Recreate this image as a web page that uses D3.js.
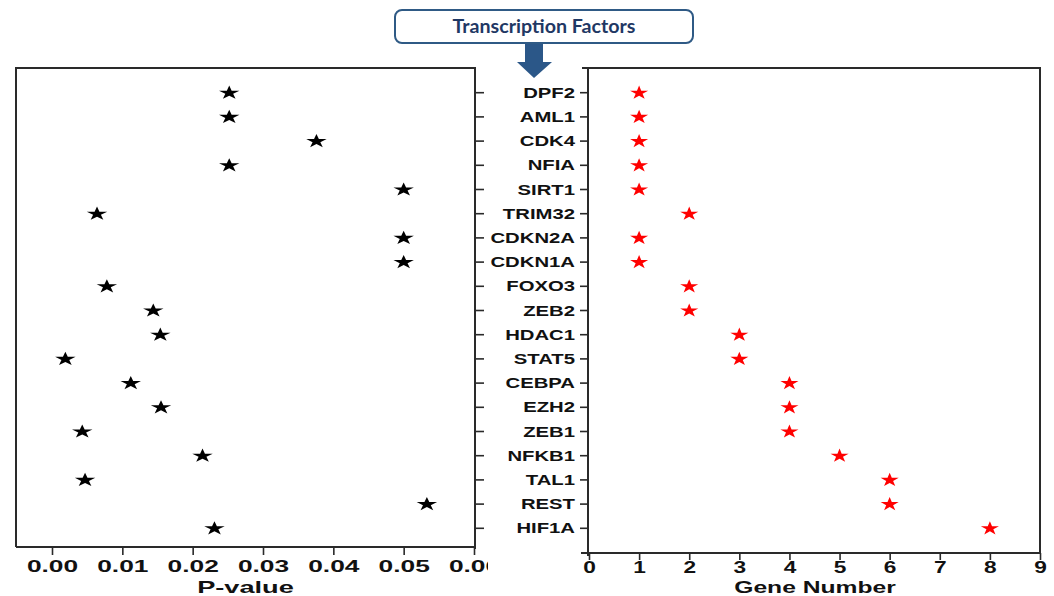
<!DOCTYPE html>
<html>
<head>
<meta charset="utf-8">
<script src="https://cdn.jsdelivr.net/npm/d3@7"></script>
<style>
  body { margin: 0; background: #fff; }
  svg { display: block; }
  .tick text { font-family: "Liberation Sans", Arial, sans-serif; font-weight: bold; fill: #111; }
  .tick line { stroke: #2a2a2a; stroke-width: 1.6; }
</style>
</head>
<body>
<div id="chart"></div>
<script>
const width = 1054, height = 596;

// transcription factors, top to bottom
const genes = ["DPF2", "AML1", "CDK4", "NFIA", "SIRT1", "TRIM32", "CDKN2A", "CDKN1A", "FOXO3",
    "ZEB2", "HDAC1", "STAT5", "CEBPA", "EZH2", "ZEB1", "NFKB1", "TAL1", "REST", "HIF1A"];

// left panel: P-value per factor
const pValues = [0.0252, 0.0252, 0.0376, 0.0252, 0.0500, 0.0064, 0.0500, 0.0500, 0.0078,
    0.0144, 0.0154, 0.0019, 0.0112, 0.0155, 0.0043, 0.0214, 0.0047, 0.0533, 0.0231];

// right panel: gene number per factor
const geneNumbers = [1, 1, 1, 1, 1, 2, 1, 1, 2, 2, 3, 3, 4, 4, 4, 5, 6, 6, 8];

const pTicks = [0, 0.01, 0.02, 0.03, 0.04, 0.05, 0.06];
const geneTicks = [0, 1, 2, 3, 4, 5, 6, 7, 8, 9];

const title = "Transcription Factors";

// the source figure is stretched sideways (the left panel a bit more),
// so text and stars get a wider x scale
const stretchL = 1.55, stretchR = 1.42, stretchLabels = 1.45;
const lineColor = "#2a2a2a";

const svg = d3.select("#chart").append("svg")
    .attr("width", width)
    .attr("height", height);

const topY = 68;
const leftP = { x0: 16, x1: 475, bottom: 547 };
const rightP = { x0: 588, x1: 1040, bottom: 553 };

const y = d3.scalePoint().domain(genes).range([topY, 552]).padding(1);
const xP = d3.scaleLinear().domain([0, 0.06]).range([52, 474]);
const xG = d3.scaleLinear().domain([0, 9]).range([589, 1040]);

const star = d3.symbol().type(d3.symbolStar).size(60);

// ---- title box and arrow
svg.append("rect")
    .attr("x", 395).attr("y", 10)
    .attr("width", 298).attr("height", 33)
    .attr("rx", 7)
    .attr("fill", "#fff")
    .attr("stroke", "#2f5a85")
    .attr("stroke-width", 2);

svg.append("text")
    .attr("x", 544).attr("y", 33)
    .attr("text-anchor", "middle")
    .attr("textLength", 183)
    .attr("lengthAdjust", "spacingAndGlyphs")
    .style("font-family", "Lato, 'Open Sans', sans-serif")
    .style("font-weight", "bold")
    .style("font-size", "19px")
    .attr("fill", "#1f3864")
    .text(title);

svg.append("path")
    .attr("d", "M525,44 L543,44 L543,62 L552,62 L534,78 L517,62 L525,62 Z")
    .attr("fill", "#2b5788");

// ---- frames
const frame = svg.append("g")
    .attr("fill", "none")
    .attr("stroke", lineColor)
    .attr("stroke-width", 2);

frame.append("path")
    .attr("d", `M${leftP.x0},${leftP.bottom} V${topY} H${leftP.x1} V${leftP.bottom + 2} M${leftP.x0},${leftP.bottom} H${leftP.x1}`);

frame.append("path")
    .attr("d", `M${rightP.x0 - 6},${topY} H${rightP.x1} V${rightP.bottom} H${rightP.x0 - 7} M${rightP.x0},${topY} V${rightP.bottom + 3}`);

// ---- left panel axes (last label is cut in the source)
svg.append("clipPath").attr("id", "cutLeft")
    .append("rect").attr("x", 0).attr("y", 0).attr("width", 488).attr("height", height);

const xAxisLeft = svg.append("g")
    .attr("clip-path", "url(#cutLeft)")
  .append("g")
    .attr("transform", `translate(0,${leftP.bottom})`)
    .call(d3.axisBottom(xP).tickValues(pTicks).tickFormat(d3.format(".2f")).tickSize(8).tickSizeOuter(0));
xAxisLeft.select(".domain").remove();
xAxisLeft.selectAll(".tick text")
    .attr("y", null).attr("dy", null)
    .attr("transform", `translate(0,25) scale(${stretchL},1)`)
    .style("font-size", "17px");

const yAxisLeft = svg.append("g")
    .attr("transform", `translate(${leftP.x1},0)`)
    .call(d3.axisRight(y).tickSize(9).tickFormat(""));
yAxisLeft.select(".domain").remove();

// ---- right panel axes
const xAxisRight = svg.append("g")
    .attr("transform", `translate(0,${rightP.bottom})`)
    .call(d3.axisBottom(xG).tickValues(geneTicks).tickFormat(d3.format("d")).tickSize(7).tickSizeOuter(0));
xAxisRight.select(".domain").remove();
xAxisRight.selectAll(".tick text")
    .attr("y", null).attr("dy", null)
    .attr("transform", `translate(0,20) scale(${stretchR},1)`)
    .style("font-size", "16px");

const yAxisRight = svg.append("g")
    .attr("transform", `translate(${rightP.x0},0)`)
    .call(d3.axisLeft(y).tickSize(8));
yAxisRight.select(".domain").remove();
yAxisRight.selectAll(".tick text")
    .attr("x", null).attr("dy", null)
    .attr("transform", `translate(-13,5) scale(${stretchLabels},1)`)
    .style("font-size", "14px");

// ---- axis titles
const axisTitle = (cx, label, sx) => svg.append("text")
    .attr("transform", `translate(${cx},592.5) scale(${sx},1)`)
    .attr("text-anchor", "middle")
    .style("font-family", "'Liberation Sans', Arial, sans-serif")
    .style("font-weight", "bold")
    .style("font-size", "17px")
    .attr("fill", "#111")
    .text(label);

axisTitle((leftP.x0 + leftP.x1) / 2, "P-value", 1.6);
axisTitle((rightP.x0 + rightP.x1) / 2 + 1, "Gene Number", stretchLabels);

// ---- stars
svg.append("g").selectAll("path")
    .data(genes)
    .enter()
    .append("path")
      .attr("d", star)
      .attr("transform", (d, i) => `translate(${xP(pValues[i])},${y(d) + 0.7}) scale(1.47,1)`)
      .attr("fill", "#000");

svg.append("g").selectAll("path")
    .data(genes)
    .enter()
    .append("path")
      .attr("d", star)
      .attr("transform", (d, i) => `translate(${xG(geneNumbers[i])},${y(d) + 0.7}) scale(1.3,1)`)
      .attr("fill", "#ff0000");
</script>
</body>
</html>
